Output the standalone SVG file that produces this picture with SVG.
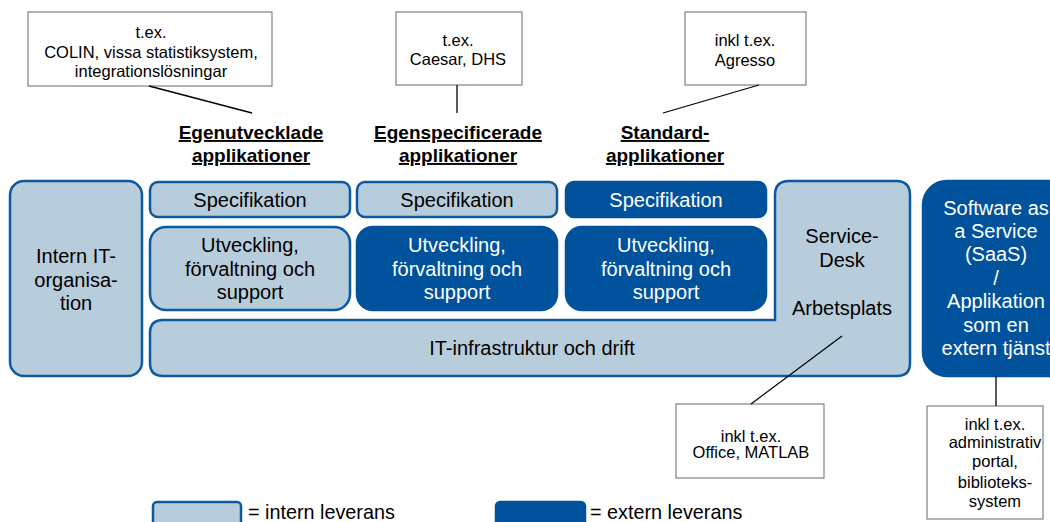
<svg xmlns="http://www.w3.org/2000/svg" width="1050" height="522" viewBox="0 0 1050 522">
  <style>
    text { font-family: "Liberation Sans", Arial, sans-serif; text-anchor: middle; }
    .light { fill: #b8cddb; stroke: #0b5aa1; stroke-width: 2.5; }
    .dark { fill: #00529c; stroke: #00529c; stroke-width: 2.5; }
    .callout { fill: #ffffff; stroke: #808080; stroke-width: 1.2; }
    .link { stroke: #000000; stroke-width: 1.3; fill: none; }
    .t20 { font-size: 20px; fill: #000000; }
    .w20 { font-size: 20px; fill: #ffffff; }
    .t16 { font-size: 16.5px; fill: #000000; }
    .head { font-size: 19px; font-weight: bold; fill: #000000; text-decoration: underline; }
    .leg { font-size: 19.8px; fill: #000000; text-anchor: start; }
  </style>
  <rect width="1050" height="522" fill="#ffffff"/>

  <!-- notes -->
  <g id="note-egenutvecklade">
    <rect class="callout" x="28" y="12" width="244" height="74"/>
    <text class="t16" x="151" y="38">t.ex.</text>
    <text class="t16" x="151" y="58">COLIN, vissa statistiksystem,</text>
    <text class="t16" x="151" y="77">integrationslösningar</text>
  </g>
  <g id="note-egenspecificerade">
    <rect class="callout" x="396" y="12" width="126" height="73"/>
    <text class="t16" x="458" y="46">t.ex.</text>
    <text class="t16" x="458" y="65">Caesar, DHS</text>
  </g>
  <g id="note-standard">
    <rect class="callout" x="685" y="12" width="121" height="73"/>
    <text class="t16" x="745" y="46">inkl t.ex.</text>
    <text class="t16" x="745" y="66">Agresso</text>
  </g>
  <g id="note-arbetsplats">
    <rect class="callout" x="676" y="404" width="148" height="74"/>
    <text class="t16" x="751" y="442">inkl t.ex.</text>
    <text class="t16" x="751" y="458">Office, MATLAB</text>
  </g>
  <g id="note-saas">
    <rect class="callout" x="927" y="406" width="116" height="113"/>
    <text class="t16" x="995" y="430">inkl t.ex.</text>
    <text class="t16" x="995" y="448">administrativ</text>
    <text class="t16" x="995" y="467">portal,</text>
    <text class="t16" x="995" y="488">biblioteks-</text>
    <text class="t16" x="995" y="507">system</text>
  </g>

  <!-- column headings -->
  <g id="head-egenutvecklade">
    <text class="head" x="251" y="139">Egenutvecklade</text>
    <text class="head" x="251" y="162">applikationer</text>
  </g>
  <g id="head-egenspecificerade">
    <text class="head" x="458" y="139">Egenspecificerade</text>
    <text class="head" x="458" y="162">applikationer</text>
  </g>
  <g id="head-standard">
    <text class="head" x="665" y="139">Standard-</text>
    <text class="head" x="665" y="162">applikationer</text>
  </g>

  <!-- internal IT organisation -->
  <g id="intern-it">
    <rect class="light" x="10" y="181" width="132" height="195" rx="14"/>
    <text class="t20" x="76" y="263">Intern IT-</text>
    <text class="t20" x="76" y="287">organisa-</text>
    <text class="t20" x="76" y="310">tion</text>
  </g>

  <!-- specification row -->
  <g id="spec-egenutvecklade">
    <rect class="light" x="150" y="182" width="200" height="35" rx="8"/>
    <text class="t20" x="250" y="207">Specifikation</text>
  </g>
  <g id="spec-egenspecificerade">
    <rect class="light" x="357" y="182" width="200" height="35" rx="8"/>
    <text class="t20" x="457" y="207">Specifikation</text>
  </g>
  <g id="spec-standard">
    <rect class="dark" x="566" y="182" width="200" height="35" rx="8"/>
    <text class="w20" x="666" y="207">Specifikation</text>
  </g>

  <!-- development, maintenance and support row -->
  <g id="dev-egenutvecklade">
    <rect class="light" x="150" y="227" width="200" height="83" rx="16"/>
    <text class="t20" x="250" y="252">Utveckling,</text>
    <text class="t20" x="250" y="276">förvaltning och</text>
    <text class="t20" x="250" y="299">support</text>
  </g>
  <g id="dev-egenspecificerade">
    <rect class="dark" x="357" y="227" width="200" height="83" rx="16"/>
    <text class="w20" x="457" y="252">Utveckling,</text>
    <text class="w20" x="457" y="276">förvaltning och</text>
    <text class="w20" x="457" y="299">support</text>
  </g>
  <g id="dev-standard">
    <rect class="dark" x="566" y="227" width="200" height="83" rx="16"/>
    <text class="w20" x="666" y="252">Utveckling,</text>
    <text class="w20" x="666" y="276">förvaltning och</text>
    <text class="w20" x="666" y="299">support</text>
  </g>

  <!-- infrastructure + service desk / workplace (L-shape) -->
  <g id="infrastruktur">
    <path class="light" d="M775 320 L775 195 Q775 181 789 181 L896 181 Q910 181 910 195 L910 363 Q910 376 897 376 L163 376 Q150 376 150 363 L150 333 Q150 320 163 320 Z"/>
    <text class="t20" x="532" y="355">IT-infrastruktur och drift</text>
    <text class="t20" x="842" y="243">Service-</text>
    <text class="t20" x="842" y="267">Desk</text>
    <text class="t20" x="842" y="315">Arbetsplats</text>
  </g>

  <!-- software as a service -->
  <g id="saas">
    <rect class="dark" x="923" y="181" width="160" height="195" rx="24"/>
    <text class="w20" x="996" y="215">Software as</text>
    <text class="w20" x="996" y="238">a Service</text>
    <text class="w20" x="996" y="261">(SaaS)</text>
    <text class="w20" x="996" y="285">/</text>
    <text class="w20" x="996" y="308">Applikation</text>
    <text class="w20" x="996" y="332">som en</text>
    <text class="w20" x="996" y="355">extern tjänst</text>
  </g>

  <!-- connectors from notes to the boxes, drawn on top -->
  <g id="connectors">
    <line class="link" x1="149" y1="86" x2="252" y2="113"/>
    <line class="link" x1="457" y1="85" x2="457" y2="113"/>
    <line class="link" x1="759" y1="85" x2="663" y2="113"/>
    <line class="link" x1="751" y1="404" x2="842" y2="336"/>
    <line class="link" x1="996" y1="376" x2="996" y2="406"/>
  </g>

  <!-- legend -->
  <g id="legend">
    <rect class="light" x="153" y="502" width="88" height="30" rx="4"/>
    <text class="leg" x="248" y="519">= intern leverans</text>
    <rect class="dark" x="496" y="502" width="89" height="30" rx="4"/>
    <text class="leg" x="590" y="519">= extern leverans</text>
  </g>
</svg>
